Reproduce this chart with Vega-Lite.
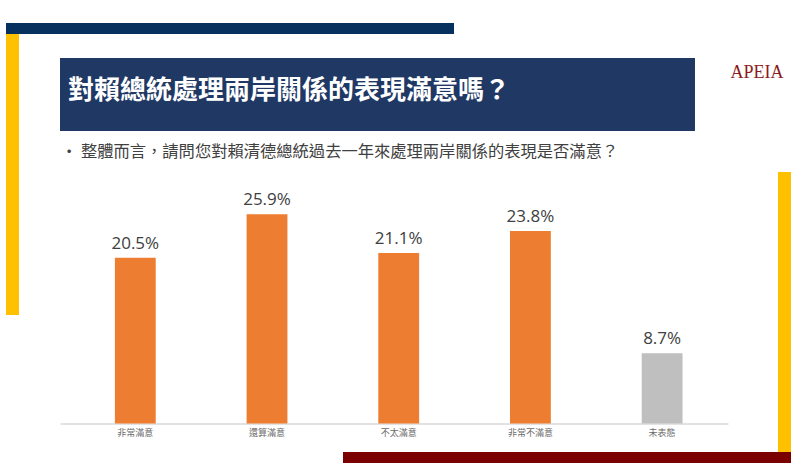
{
  "$schema": "https://vega.github.io/schema/vega-lite/v6.json",
  "padding": {"left": 6, "top": 23, "right": 0, "bottom": 0},
  "background": "#ffffff",
  "config": {"view": {"stroke": null}, "font": "Noto Sans CJK TC"},
  "datasets": {
    "survey": [
      {"category": "非常滿意", "share": 0.205},
      {"category": "還算滿意", "share": 0.259},
      {"category": "不太滿意", "share": 0.211},
      {"category": "非常不滿意", "share": 0.238},
      {"category": "未表態", "share": 0.087}
    ],
    "none": []
  },
  "spacing": 0,
  "vconcat": [
    {"data": {"name": "none"}, "mark": "point", "width": 448, "height": 11, "view": {"fill": "#06315f", "stroke": null}},
    {
      "spacing": 41,
      "hconcat": [
        {"data": {"name": "none"}, "mark": "point", "width": 13, "height": 281, "view": {"fill": "#ffc000", "stroke": null}},
        {
          "spacing": 0,
          "vconcat": [
            {"data": {"name": "none"}, "mark": "point", "width": 1, "height": 24},
            {
              "spacing": 32,
              "hconcat": [
                {
                  "data": {"name": "none"}, "mark": "point", "width": 635, "height": 73,
                  "view": {"fill": "#1f3864", "stroke": null},
                  "title": {"text": "對賴總統處理兩岸關係的表現滿意嗎？", "anchor": "start", "frame": "group", "baseline": "top", "offset": 0, "dx": 8, "dy": 46, "fontSize": 26, "fontWeight": "bold", "color": "#ffffff", "font": "Noto Sans CJK TC"}
                },
                {
                  "data": {"name": "none"}, "mark": "point", "width": 60, "height": 73,
                  "title": {"text": "APEIA", "anchor": "middle", "frame": "group", "baseline": "top", "offset": 0, "dy": 24, "fontSize": 18, "fontWeight": "normal", "color": "#8c1c1c", "font": "Liberation Serif"}
                }
              ]
            },
            {"data": {"name": "none"}, "mark": "point", "width": 1, "height": 12},
            {
              "spacing": 50,
              "hconcat": [
                {
                  "data": {"name": "survey"},
                  "width": 668,
                  "height": 280.5,
                  "title": {"text": "• 整體而言，請問您對賴清德總統過去一年來處理兩岸關係的表現是否滿意？", "anchor": "start", "frame": "group", "baseline": "top", "offset": 0, "dx": 1, "dy": 17, "fontSize": 16.3, "fontWeight": "normal", "color": "#404040", "font": "Noto Sans CJK TC"},
                  "encoding": {
                    "x": {
                      "field": "category", "type": "nominal", "sort": null,
                      "scale": {"paddingInner": 0.69, "paddingOuter": 0.381, "align": 0.547},
                      "axis": {"title": null, "labelAngle": 0, "ticks": false, "domainColor": "#d9d9d9", "domainWidth": 1.5, "labelFontSize": 9, "labelColor": "#6b6b6b", "labelPadding": 5, "labelFont": "Noto Sans CJK TC"}
                    },
                    "y": {"field": "share", "type": "quantitative", "scale": {"domain": [0, 0.347], "nice": false}, "axis": null}
                  },
                  "layer": [
                    {
                      "mark": {"type": "bar"},
                      "encoding": {
                        "color": {"field": "category", "type": "nominal", "scale": {"domain": ["非常滿意", "還算滿意", "不太滿意", "非常不滿意", "未表態"], "range": ["#ed7d31", "#ed7d31", "#ed7d31", "#ed7d31", "#bfbfbf"]}, "legend": null}
                      }
                    },
                    {
                      "mark": {"type": "text", "baseline": "alphabetic", "dy": -9, "fontSize": 17, "font": "Open Sans", "color": "#404040"},
                      "encoding": {"text": {"field": "share", "type": "quantitative", "format": ".1%"}}
                    }
                  ]
                },
                {
                  "spacing": 0,
                  "vconcat": [
                    {"data": {"name": "none"}, "mark": "point", "width": 13, "height": 29},
                    {"data": {"name": "none"}, "mark": "point", "width": 13, "height": 280, "view": {"fill": "#ffc000", "stroke": null}}
                  ]
                }
              ]
            },
            {
              "spacing": 0,
              "hconcat": [
                {"data": {"name": "none"}, "mark": "point", "width": 283, "height": 11},
                {"data": {"name": "none"}, "mark": "point", "width": 448, "height": 11, "view": {"fill": "#7b0000", "stroke": null}}
              ]
            }
          ]
        }
      ]
    }
  ]
}
